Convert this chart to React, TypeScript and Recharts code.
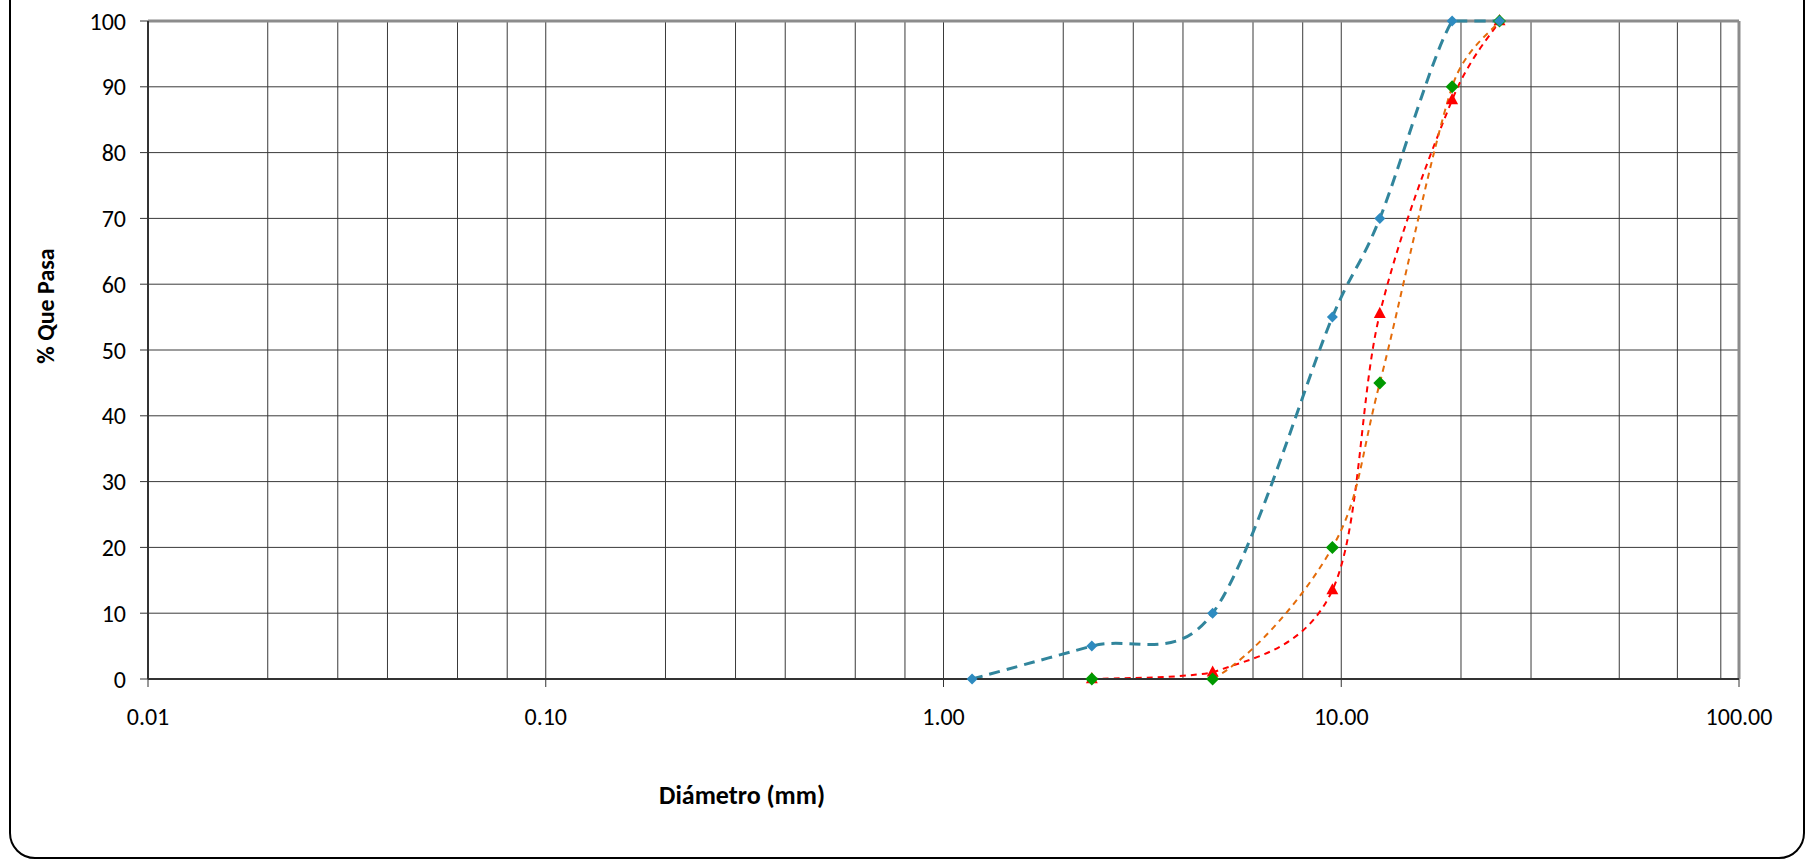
import React from "react";
import { LineChart, Line, XAxis, YAxis, CartesianGrid, ReferenceLine } from "recharts";

// tamices (mm) y % que pasa por curva
const diametros = [1.18, 2.36, 4.75, 9.5, 12.5, 19, 25];
const pasaAzul = [0, 5, 10, 55, 70, 100, 100];
const pasaRojo = [null, 0, 1, 13.5, 55.5, 88, 100];
const pasaVerde = [null, 0, 0, 20, 45, 90, 100];

const xTicks = [0.01, 0.1, 1, 10, 100];
const yTicks = [0, 10, 20, 30, 40, 50, 60, 70, 80, 90, 100];
const gridX = [
  0.02, 0.03, 0.04, 0.05, 0.06, 0.07, 0.08, 0.09, 0.1,
  0.2, 0.3, 0.4, 0.5, 0.6, 0.7, 0.8, 0.9, 1,
  2, 3, 4, 5, 6, 7, 8, 9, 10,
  20, 30, 40, 50, 60, 70, 80, 90,
];

const toRows = (vals: (number | null)[]) =>
  diametros
    .map((d, i) => ({ d, v: vals[i] }))
    .filter((r) => r.v !== null);

const azul = toRows(pasaAzul);
const rojo = toRows(pasaRojo);
const verde = toRows(pasaVerde);

// suavizado tipo Excel: bezier con tangentes de Catmull-Rom, limitadas,
// y sin salirse del rango vertical de los puntos (como el recorte de Excel)
function excelCurve(context: any) {
  let pts: number[][] = [];
  return {
    areaStart() {},
    areaEnd() {},
    lineStart() {
      pts = [];
    },
    point(x: number, y: number) {
      pts.push([+x, +y]);
    },
    lineEnd() {
      const n = pts.length;
      if (!n) return;
      const ys = pts.map((p) => p[1]);
      const yMin = Math.min(...ys);
      const yMax = Math.max(...ys);
      const clampY = (y: number) => Math.max(yMin, Math.min(yMax, y));
      const dist = (a: number[], b: number[]) => Math.hypot(a[0] - b[0], a[1] - b[1]);
      const factor = (a: number[], c: number[], seg: number) => {
        const d = dist(a, c);
        if (d === 0) return 0;
        return Math.min(1 / 6, seg / (2 * d));
      };
      context.moveTo(pts[0][0], pts[0][1]);
      for (let i = 0; i < n - 1; i++) {
        const p0 = pts[i - 1] || pts[i];
        const p1 = pts[i];
        const p2 = pts[i + 1];
        const p3 = pts[i + 2] || p2;
        const seg = dist(p1, p2);
        const f1 = factor(p0, p2, seg);
        const f2 = factor(p1, p3, seg);
        context.bezierCurveTo(
          p1[0] + (p2[0] - p0[0]) * f1,
          clampY(p1[1] + (p2[1] - p0[1]) * f1),
          p2[0] - (p3[0] - p1[0]) * f2,
          clampY(p2[1] - (p3[1] - p1[1]) * f2),
          p2[0],
          p2[1]
        );
      }
    },
  };
}

const Diamond = (color: string, r: number) => (props: any) => {
  const { cx, cy, index } = props;
  if (cx == null || cy == null) return <g key={index} />;
  return (
    <path
      key={index}
      d={`M${cx},${cy - r}L${cx + r},${cy}L${cx},${cy + r}L${cx - r},${cy}Z`}
      fill={color}
    />
  );
};

const Triangle = (color: string, r: number) => (props: any) => {
  const { cx, cy, index } = props;
  if (cx == null || cy == null) return <g key={index} />;
  return (
    <path
      key={index}
      d={`M${cx},${cy - r}L${cx + r * 0.85},${cy + r * 0.6}L${cx - r * 0.85},${cy + r * 0.6}Z`}
      fill={color}
    />
  );
};

const FONT = "Carlito, Lato, sans-serif";

export default function App() {
  return (
    <div
      style={{
        position: "fixed",
        left: 0,
        top: 0,
        width: 1809,
        height: 865,
        background: "#fff",
        fontFamily: FONT,
      }}
    >
      <div
        style={{
          position: "absolute",
          left: 9,
          top: -40,
          width: 1796,
          height: 899,
          border: "2px solid #000",
          borderRadius: 26,
          boxSizing: "border-box",
        }}
      />
      <div style={{ position: "absolute", left: 0, top: 0 }}>
        <LineChart
          width={1809}
          height={865}
          margin={{ top: 21, right: 70, bottom: 156, left: 88 }}
        >
          <CartesianGrid
            stroke="#3a3a3a"
            strokeWidth={1}
            horizontal={true}
            vertical={true}
            verticalValues={gridX}
          />
          <XAxis
            type="number"
            dataKey="d"
            scale="log"
            domain={[0.01, 100]}
            ticks={xTicks}
            tickFormatter={(v: number) => v.toFixed(2)}
            tick={{ fill: "#000", fontSize: 24, fontFamily: FONT }}
            tickSize={8}
            tickMargin={21}
            axisLine={{ stroke: "#333", strokeWidth: 2 }}
            tickLine={{ stroke: "#333" }}
            height={30}
          />
          <YAxis
            type="number"
            domain={[0, 100]}
            ticks={yTicks}
            interval={0}
            tick={{ fill: "#000", fontSize: 24, fontFamily: FONT }}
            tickSize={8}
            tickMargin={14}
            axisLine={{ stroke: "#333", strokeWidth: 2 }}
            tickLine={{ stroke: "#333" }}
            width={60}
          />
          <ReferenceLine y={100} stroke="#8c8c8c" strokeWidth={3} />
          <ReferenceLine x={100} stroke="#8c8c8c" strokeWidth={3} />
          <Line
            data={rojo}
            dataKey="v"
            type={excelCurve as any}
            stroke="#ff0000"
            strokeWidth={2}
            strokeDasharray="6 5"
            dot={Triangle("#ff0000", 7)}
            isAnimationActive={false}
          />
          <Line
            data={verde}
            dataKey="v"
            type={excelCurve as any}
            stroke="#e46c0a"
            strokeWidth={2}
            strokeDasharray="6 5"
            dot={Diamond("#009900", 6.5)}
            isAnimationActive={false}
          />
          <Line
            data={azul}
            dataKey="v"
            type={excelCurve as any}
            stroke="#31859c"
            strokeWidth={3}
            strokeDasharray="11 7"
            dot={Diamond("#2e8bc0", 5.5)}
            isAnimationActive={false}
          />
        </LineChart>
      </div>
      <div
        style={{
          position: "absolute",
          left: 45,
          top: 306,
          transform: "translate(-50%, -50%) rotate(-90deg)",
          fontWeight: 700,
          fontSize: 24,
          whiteSpace: "nowrap",
        }}
      >
        % Que Pasa
      </div>
      <div
        style={{
          position: "absolute",
          left: 742,
          top: 795,
          transform: "translate(-50%, -50%)",
          fontWeight: 700,
          fontSize: 26,
          whiteSpace: "nowrap",
        }}
      >
        Diámetro (mm)
      </div>
    </div>
  );
}
